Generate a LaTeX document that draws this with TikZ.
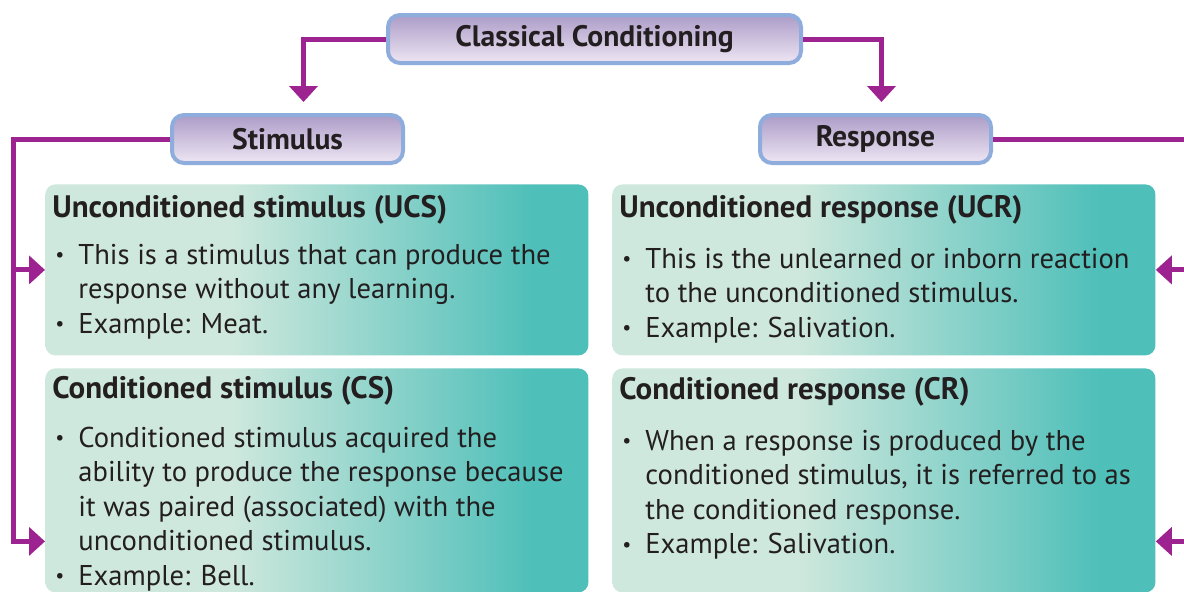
\documentclass[tikz,border=0pt]{standalone}
\usepackage{fontspec}
\setmainfont{PT Sans}
\usetikzlibrary{arrows.meta,positioning,calc}
\definecolor{linkpurple}{RGB}{156,35,144}
\definecolor{headedge}{RGB}{143,173,220}
\definecolor{headtop}{RGB}{172,156,200}
\definecolor{headbot}{RGB}{238,230,243}
\definecolor{boxlite}{RGB}{207,232,221}
\definecolor{boxteal}{RGB}{78,191,185}
\definecolor{ink}{RGB}{35,31,32}
\pgfdeclarehorizontalshading{tealfade}{100bp}{color(0bp)=(boxlite); color(42bp)=(boxlite); color(70bp)=(boxteal); color(100bp)=(boxteal)}
\newcommand{\bul}{\makebox[13pt][l]{\hspace{1.5pt}\raisebox{0.2ex}{\scalebox{0.7}{\textbullet}}}}
\newcommand{\cont}{\hspace*{13pt}}
\newcommand{\boxhead}[1]{{\fontsize{15.5}{17.3}\selectfont\bfseries #1}}

\begin{document}
\begin{tikzpicture}[
  x=0.5pt, y=-0.5pt,
  head/.style={draw=headedge, line width=2pt, rounded corners=6pt, top color=headtop, bottom color=headbot, minimum height=24pt, inner sep=0pt, text=ink, font=\bfseries\fontsize{14.8}{17}\selectfont},
  infobox/.style={shade, shading=tealfade, rounded corners=5pt, minimum width=271.5pt, anchor=north west, inner sep=0pt},
  boxtext/.style={anchor=north west, inner sep=0pt, align=left, text=ink, font=\fontsize{14.3}{17.3}\selectfont},
  link/.style={-{Triangle[width=14pt,length=8pt]}, line width=2.5pt, draw=linkpurple}
]
\useasboundingbox (0,0) rectangle (1184,591);
\clip (0,0) rectangle (1184,591);
\node[head, minimum width=206.5pt] (cc) at (594.5,39) {Classical Conditioning};
\node[head, minimum width=115.5pt] (stim) at (287.5,139) {Stimulus};
\node[head, minimum width=115.5pt] (resp) at (875.5,139) {Response};
\node[infobox, minimum height=85.5pt] (ucs) at (45,184) {};
\node[infobox, minimum height=112pt] (cs) at (45,368) {};
\node[infobox, minimum height=85.5pt] (ucr) at (612,184) {};
\node[infobox, minimum height=112pt] (cr) at (612,368) {};
\node[boxtext] (ucs-txt) at (52,195) {\boxhead{Unconditioned stimulus (UCS)}\\[6pt]
  \bul This is a stimulus that can produce the\\
  \cont response without any learning.\\
  \bul Example: Meat.};
\node[boxtext] (cs-txt) at (52,376) {\boxhead{Conditioned stimulus (CS)}\\[7pt]
  \bul Conditioned stimulus acquired the\\
  \cont ability to produce the response because\\
  \cont it was paired (associated) with the\\
  \cont unconditioned stimulus.\\
  \bul Example: Bell.};
\node[boxtext] (ucr-txt) at (619,195) {\boxhead{Unconditioned response (UCR)}\\[8pt]
  \bul This is the unlearned or inborn reaction\\
  \cont to the unconditioned stimulus.\\
  \bul Example: Salivation.};
\node[boxtext] (cr-txt) at (619,377) {\boxhead{Conditioned response (CR)}\\[8pt]
  \bul When a response is produced by the\\
  \cont conditioned stimulus, it is referred to as\\
  \cont the conditioned response.\\
  \bul Example: Salivation.};
\coordinate (lbus) at (13,0);
\coordinate (rbus) at (1192,0);
\coordinate (cs-in) at ($(cs.west)+(0,61)$);
\coordinate (cr-in) at ($(cr.east)+(0,61)$);
\draw[link, shorten >=5.5pt] (cc.west) -| ([xshift=8pt]stim.north);
\draw[link, shorten >=5.5pt] (cc.east) -| ([xshift=3pt]resp.north);
\draw[link] (stim.west) -| (lbus |- cs-in) -- (cs-in);
\draw[link] (lbus |- ucs.west) -- (ucs.west);
\draw[link] (resp.east) -| (rbus |- cr-in) -- (cr-in);
\draw[link] (rbus |- ucr.east) -- (ucr.east);
\end{tikzpicture}
\end{document}
